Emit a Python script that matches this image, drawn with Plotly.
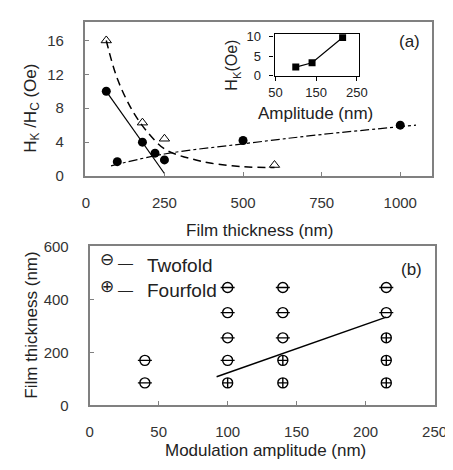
import plotly.graph_objects as go

W, H = 453, 470
FONT = "Liberation Sans, Arial, sans-serif"

# ---- Panel (a) data ----
tri_x = [65, 180, 250, 600]
tri_y = [16, 6.3, 4.4, 1.3]
dash_x = [65, 100, 150, 200, 250, 300, 350, 400, 500, 600]
dash_y = [16, 11.5, 7.6, 5.0, 3.2, 2.4, 1.9, 1.5, 1.1, 1.0]

dia_x = [65, 180, 220]
dia_y = [10, 4.0, 2.7]
solid_x = [65, 250]
solid_y = [10, 0.3]

circ_x = [100, 250, 500, 1000]
circ_y = [1.7, 1.9, 4.2, 6.0]
dashdot_x = [80, 250, 500, 750, 1050]
dashdot_y = [1.2, 2.6, 3.8, 4.9, 6.0]

a_xticks = [0, 250, 500, 750, 1000]
a_yticks = [0, 4, 8, 12, 16]

# inset
ins_x = [100, 140, 215]
ins_y = [2.2, 3.3, 9.7]
ins_xticks = [50, 150, 250]
ins_yticks = [0, 5, 10]

# ---- Panel (b) data ----
two_x = [40, 40, 100, 100, 100, 100, 140, 140, 140, 215, 215]
two_y = [85, 170, 170, 255, 350, 445, 255, 350, 445, 350, 445]
four_x = [100, 140, 140, 215, 215, 215]
four_y = [85, 85, 170, 85, 170, 255]
bline_x = [92, 215]
bline_y = [108, 333]
b_xticks = [0, 50, 100, 150, 200, 250]
b_yticks = [0, 200, 400, 600]


def px(x0, x1):
    return [x0 / W, x1 / W]


def py(ytop, ybot):
    return [1 - ybot / H, 1 - ytop / H]


fig = go.Figure()

# panel (a)
fig.add_trace(go.Scatter(x=dash_x, y=dash_y, mode="lines", line=dict(color="black", width=1.5, dash="8px,5px"),
                         line_shape="spline", xaxis="x", yaxis="y", showlegend=False))
fig.add_trace(go.Scatter(x=tri_x, y=tri_y, mode="markers",
                         marker=dict(symbol="triangle-up-open", size=9, color="black", line=dict(width=1)),
                         xaxis="x", yaxis="y", showlegend=False))
fig.add_trace(go.Scatter(x=solid_x, y=solid_y, mode="lines", line=dict(color="black", width=1.2),
                         xaxis="x", yaxis="y", showlegend=False))
fig.add_trace(go.Scatter(x=dia_x, y=dia_y, mode="markers",
                         marker=dict(symbol="circle", size=9, color="black"),
                         xaxis="x", yaxis="y", showlegend=False))
fig.add_trace(go.Scatter(x=dashdot_x, y=dashdot_y, mode="lines", line=dict(color="black", width=1.2, dash="dashdot"),
                         line_shape="spline", xaxis="x", yaxis="y", showlegend=False))
fig.add_trace(go.Scatter(x=circ_x, y=circ_y, mode="markers",
                         marker=dict(symbol="circle", size=9, color="black"),
                         xaxis="x", yaxis="y", showlegend=False))

# inset
fig.add_trace(go.Scatter(x=ins_x, y=ins_y, mode="lines+markers", line=dict(color="black", width=1.2),
                         marker=dict(symbol="square", size=7, color="black"),
                         xaxis="x3", yaxis="y3", showlegend=False))

# panel (b)
fig.add_trace(go.Scatter(x=bline_x, y=bline_y, mode="lines", line=dict(color="black", width=1.5),
                         xaxis="x2", yaxis="y2", showlegend=False))
fig.add_trace(go.Scatter(x=two_x, y=two_y, mode="markers",
                         marker=dict(symbol="circle-open", size=10, color="black", line=dict(width=1.4)),
                         xaxis="x2", yaxis="y2", showlegend=False))
fig.add_trace(go.Scatter(x=two_x, y=two_y, mode="markers",
                         marker=dict(symbol="line-ew-open", size=10, color="black", line=dict(width=1.4)),
                         xaxis="x2", yaxis="y2", showlegend=False))
fig.add_trace(go.Scatter(x=four_x, y=four_y, mode="markers",
                         marker=dict(symbol="circle-cross-open", size=10, color="black", line=dict(width=1.4)),
                         xaxis="x2", yaxis="y2", showlegend=False))

frame = dict(showline=True, linecolor="#808080", linewidth=2, mirror=True, showgrid=False, zeroline=False,
             tickfont=dict(family=FONT, size=15, color="#333"), ticks="inside", ticklen=4, tickcolor="#808080")
inset_frame = {**frame, "linecolor": "black", "tickcolor": "black", "linewidth": 1.2, "ticks": "outside",
               "tickfont": dict(family=FONT, size=13, color="#222")}

fig.update_layout(
    width=W, height=H, margin=dict(l=0, r=0, t=0, b=0),
    paper_bgcolor="white", plot_bgcolor="white",
    font=dict(family=FONT, color="#222"),
    xaxis=dict(domain=px(74, 436), range=[-3, 1100], tickvals=a_xticks, ticklabelstandoff=12, anchor="y", **frame),
    yaxis=dict(domain=py(5, 165), range=[0, 18.2], tickvals=a_yticks, ticklabelstandoff=16, anchor="x", **frame),
    xaxis2=dict(domain=px(79, 439), range=[0, 250], tickvals=b_xticks, ticklabelstandoff=12, anchor="y2", **frame),
    yaxis2=dict(domain=py(238, 403), range=[0, 600], tickvals=b_yticks, ticklabelstandoff=16, anchor="x2", **frame),
    xaxis3=dict(domain=px(272, 360), range=[48, 255], tickvals=ins_xticks, ticklabelstandoff=1, anchor="y3",
                **inset_frame),
    yaxis3=dict(domain=py(18, 61), range=[0, 10.5], tickvals=ins_yticks, ticklabelstandoff=6, anchor="x3",
                **inset_frame),
)

ann = [
    dict(text="H<sub>K</sub> /H<sub>C</sub> (Oe)", x=18, y=95, textangle=-90, size=17),
    dict(text="Film thickness (nm)", x=256, y=221, size=17),
    dict(text="(a)", x=413, y=25, size=17),
    dict(text="H<sub>K</sub>(Oe)", x=228, y=50, textangle=-90, size=16),
    dict(text="Amplitude (nm)", x=315, y=100, size=17),
    dict(text="Film thickness (nm)", x=18, y=320, textangle=-90, size=17),
    dict(text="Modulation amplitude (nm)", x=262, y=450, size=17),
    dict(text="(b)", x=415, y=262, size=17),
    dict(text="⊖", x=97, y=252, size=17),
    dict(text="—", x=116, y=255, size=15),
    dict(text="⊕", x=97, y=280, size=17),
    dict(text="—", x=116, y=283, size=15),
]
for a in ann:
    fig.add_annotation(text=a["text"], x=a["x"] / W, y=1 - a["y"] / H, xref="paper", yref="paper",
                       showarrow=False, textangle=a.get("textangle", 0),
                       font=dict(family=FONT, size=a["size"], color="#222"), xanchor="center", yanchor="middle")
for t, yy in [("Twofold", 258), ("Fourfold", 284)]:
    fig.add_annotation(text=t, x=137 / W, y=1 - yy / H, xref="paper", yref="paper", showarrow=False,
                       font=dict(family=FONT, size=19, color="#222"), xanchor="left", yanchor="middle")

fig.write_html("out.html")
